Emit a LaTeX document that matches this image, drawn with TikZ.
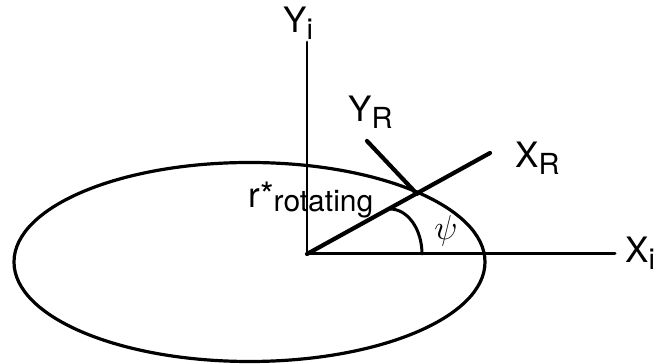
\documentclass[tikz,border=0pt]{standalone}
\usepackage{fontspec}
\setmainfont{TeX Gyre Heros}
\usetikzlibrary{positioning}
\newcommand{\lowsub}[1]{\raisebox{-3.5pt}{\fontsize{14.5}{15}\selectfont #1}}
\tikzset{
  every picture/.style={x=0.5pt, y=0.5pt, line cap=round},
  axis/.style={line width=1.4pt},
  frameaxis/.style={line width=2.1pt},
  orbit/.style={line width=1.6pt},
  lbl/.style={anchor=base west, inner sep=0pt, font=\fontsize{17.5}{20}\selectfont},
}
\begin{document}
\begin{tikzpicture}
  \useasboundingbox (0,0) rectangle (655,364);
  % inertial axes
  \coordinate (O) at (307,110);
  \coordinate (yitop) at (307,322);
  \coordinate (xiend) at (615,110);
  \draw[axis] (O) -- (yitop);
  \draw[axis, line width=1.5pt] (O) -- (xiend);
  % orbit
  \draw[orbit] (249.5,102) ellipse[x radius=235.5, y radius=99.5];
  % rotating frame
  \coordinate (xrend) at (490,211);
  \coordinate (P) at (417,170);
  \coordinate (yrstart) at (367,223);
  \draw[frameaxis] (O) -- (xrend);
  \draw[frameaxis] (yrstart) -- (P);
  % angle psi
  \coordinate (arcstart) at (390,155);
  \draw[line width=1.5pt] (arcstart) arc[start angle=90, end angle=0, x radius=32, y radius=45];
  % labels
  \node[lbl] (Yi) at (283,331) {Y\lowsub{i}};
  \node[lbl] (Xi) at (625,101) {X\lowsub{i}};
  \node[lbl] (YR) at (348,242) {Y\lowsub{R}};
  \node[lbl] (XR) at (515,196) {X\lowsub{R}};
  \node[lbl] (rrot) at (248,156) {r*\raisebox{-2pt}{\fontsize{15}{16}\selectfont rotating}};
  \node[inner sep=0pt, font=\fontsize{17}{19}\selectfont] (psi) at (446,133) {$\psi$};
\end{tikzpicture}
\end{document}
